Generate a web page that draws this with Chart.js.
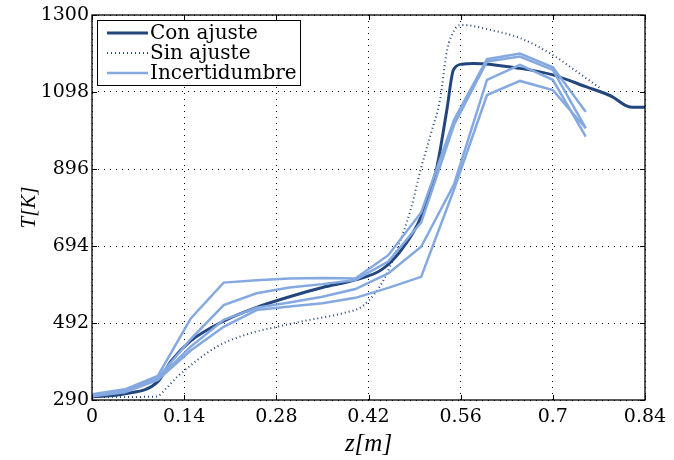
<!DOCTYPE html>
<html>
<head>
<meta charset="utf-8">
<script src="https://cdn.jsdelivr.net/npm/chart.js@4"></script>
<style>
  html, body { margin: 0; padding: 0; background: #fff; }
  #wrap { width: 674px; height: 460px; }
</style>
</head>
<body>
<div id="wrap"><canvas id="tempChart" width="674" height="460"></canvas></div>
<script>
const xTicks = [0, 0.14, 0.28, 0.42, 0.56, 0.7, 0.84];
const yTicks = [290, 492, 694, 896, 1098, 1300];

const conX = [0, 0.05, 0.1, 0.12, 0.15, 0.2, 0.25, 0.3, 0.35, 0.4, 0.44, 0.47, 0.5, 0.524, 0.539, 0.549, 0.562, 0.58, 0.65, 0.7, 0.75, 0.79, 0.81, 0.82, 0.84];
const conT = [298, 306, 338, 392, 445, 497, 533, 561, 585, 605, 632, 684, 771, 902, 1051, 1156, 1171, 1173, 1160, 1143, 1112, 1086, 1063, 1058, 1058];

const sinX = [0, 0.05, 0.098, 0.113, 0.129, 0.19, 0.24, 0.281, 0.33, 0.382, 0.41, 0.43, 0.443, 0.463, 0.484, 0.499, 0.515, 0.529, 0.539, 0.552, 0.562, 0.605, 0.651, 0.7, 0.74, 0.772];
const sinT = [298, 298, 299, 321, 350, 430, 465, 482, 500, 518, 535, 570, 605, 684, 789, 893, 990, 1081, 1204, 1265, 1274, 1261, 1239, 1195, 1147, 1108];

const incX = [0, 0.05, 0.1, 0.15, 0.2, 0.25, 0.3, 0.35, 0.4, 0.45, 0.5, 0.55, 0.6, 0.65, 0.7, 0.75];
const incA = [305, 318, 353, 504, 598, 604, 609, 610, 609, 670, 782, 1025, 1184, 1199, 1163, 1046];
const incB = [303, 314, 348, 450, 539, 570, 585, 594, 605, 653, 756, 1012, 1178, 1191, 1156, 1003];
const incC = [300, 312, 345, 430, 500, 532, 546, 561, 581, 622, 692, 856, 1130, 1169, 1130, 981];
const incD = [300, 310, 343, 420, 482, 526, 535, 544, 558, 584, 613, 843, 1090, 1127, 1103, 1003];

const darkBlue = '#23467e';
const lightBlue = '#84a9e0';
const serif = '"DejaVu Serif", "Liberation Serif", serif';
const titleSerif = '"Liberation Serif", "DejaVu Serif", serif';

const pts = (xs, ys) => xs.map((x, i) => ({ x: x, y: ys[i] }));

const incDatasets = [incA, incB, incC, incD].map((ys, i) => ({
  label: i === 0 ? 'Incertidumbre' : '',
  data: pts(incX, ys),
  borderColor: lightBlue,
  borderWidth: 2.5,
  pointRadius: 0,
  tension: 0
}));

// ticks pointing inward on all four sides, frame and legend box
const framePlugin = {
  id: 'frame',
  afterDatasetsDraw(chart) {
    const { ctx, chartArea: a, scales } = chart;
    ctx.save();
    ctx.strokeStyle = '#000';
    ctx.lineWidth = 1;
    const t = 5;
    ctx.beginPath();
    xTicks.forEach(v => {
      const px = Math.round(scales.x.getPixelForValue(v)) + 0.5;
      ctx.moveTo(px, a.bottom); ctx.lineTo(px, a.bottom - t);
      ctx.moveTo(px, a.top); ctx.lineTo(px, a.top + t);
    });
    yTicks.forEach(v => {
      const py = Math.round(scales.y.getPixelForValue(v)) + 0.5;
      ctx.moveTo(a.left, py); ctx.lineTo(a.left + t, py);
      ctx.moveTo(a.right, py); ctx.lineTo(a.right - t, py);
    });
    ctx.stroke();
    ctx.lineWidth = 1.3;
    ctx.strokeRect(a.left, a.top, a.right - a.left, a.bottom - a.top);

    // legend
    const lx = a.left + 5, ly = a.top + 5, lw = 203, lh = 65;
    ctx.fillStyle = '#fff';
    ctx.fillRect(lx, ly, lw, lh);
    ctx.lineWidth = 1;
    ctx.strokeRect(lx + 0.5, ly + 0.5, lw, lh);
    const items = [
      { text: 'Con ajuste', color: darkBlue, width: 3, dash: [] },
      { text: 'Sin ajuste', color: darkBlue, width: 2, dash: [1, 3] },
      { text: 'Incertidumbre', color: lightBlue, width: 2.5, dash: [] }
    ];
    ctx.font = '20px ' + serif;
    ctx.textBaseline = 'middle';
    items.forEach((it, i) => {
      const y = ly + 13 + i * 20;
      ctx.beginPath();
      ctx.setLineDash(it.dash);
      ctx.strokeStyle = it.color;
      ctx.lineWidth = it.width;
      ctx.moveTo(lx + 10, y);
      ctx.lineTo(lx + 51, y);
      ctx.stroke();
      ctx.setLineDash([]);
      ctx.fillStyle = '#000';
      ctx.fillText(it.text, lx + 53, y + 1);
    });
    ctx.restore();
  }
};

const ctx = document.getElementById('tempChart').getContext('2d');
const tempChart = new Chart(ctx, {
  type: 'line',
  data: {
    datasets: [
      ...incDatasets,
      {
        label: 'Sin ajuste',
        data: pts(sinX, sinT),
        borderColor: darkBlue,
        borderWidth: 2,
        borderDash: [1, 3],
        pointRadius: 0,
        cubicInterpolationMode: 'monotone'
      },
      {
        label: 'Con ajuste',
        data: pts(conX, conT),
        borderColor: darkBlue,
        borderWidth: 3,
        pointRadius: 0,
        cubicInterpolationMode: 'monotone'
      }
    ]
  },
  options: {
    responsive: false,
    animation: false,
    layout: { padding: { top: 15, right: 29, left: 0, bottom: 0 } },
    plugins: {
      legend: { display: false },
      tooltip: { enabled: false }
    },
    scales: {
      x: {
        type: 'linear',
        min: 0,
        max: 0.84,
        afterBuildTicks: s => { s.ticks = xTicks.map(v => ({ value: v })); },
        afterFit: s => { s.height = 60; },
        grid: {
          color: '#000',
          lineWidth: 1,
          drawTicks: false
        },
        border: { display: false, dash: [1, 5] },
        ticks: {
          color: '#000',
          font: { family: serif, size: 19 },
          padding: 6,
          maxRotation: 0,
          callback: v => String(v)
        },
        title: {
          display: true,
          text: 'z[m]',
          color: '#000',
          font: { family: titleSerif, size: 25, style: 'italic' },
          padding: { top: 0, bottom: 1 }
        }
      },
      y: {
        type: 'linear',
        min: 290,
        max: 1300,
        afterBuildTicks: s => { s.ticks = yTicks.map(v => ({ value: v })); },
        afterFit: s => { s.width = 92; },
        grid: {
          color: '#000',
          lineWidth: 1,
          drawTicks: false
        },
        border: { display: false, dash: [1, 5] },
        ticks: {
          color: '#000',
          font: { family: serif, size: 19 },
          padding: 3,
          callback: v => String(v)
        },
        title: {
          display: true,
          text: 'T[K]',
          color: '#000',
          font: { family: titleSerif, size: 21, style: 'italic' },
          padding: { top: 17, bottom: 0 }
        }
      }
    }
  },
  plugins: [framePlugin]
});
</script>
</body>
</html>
